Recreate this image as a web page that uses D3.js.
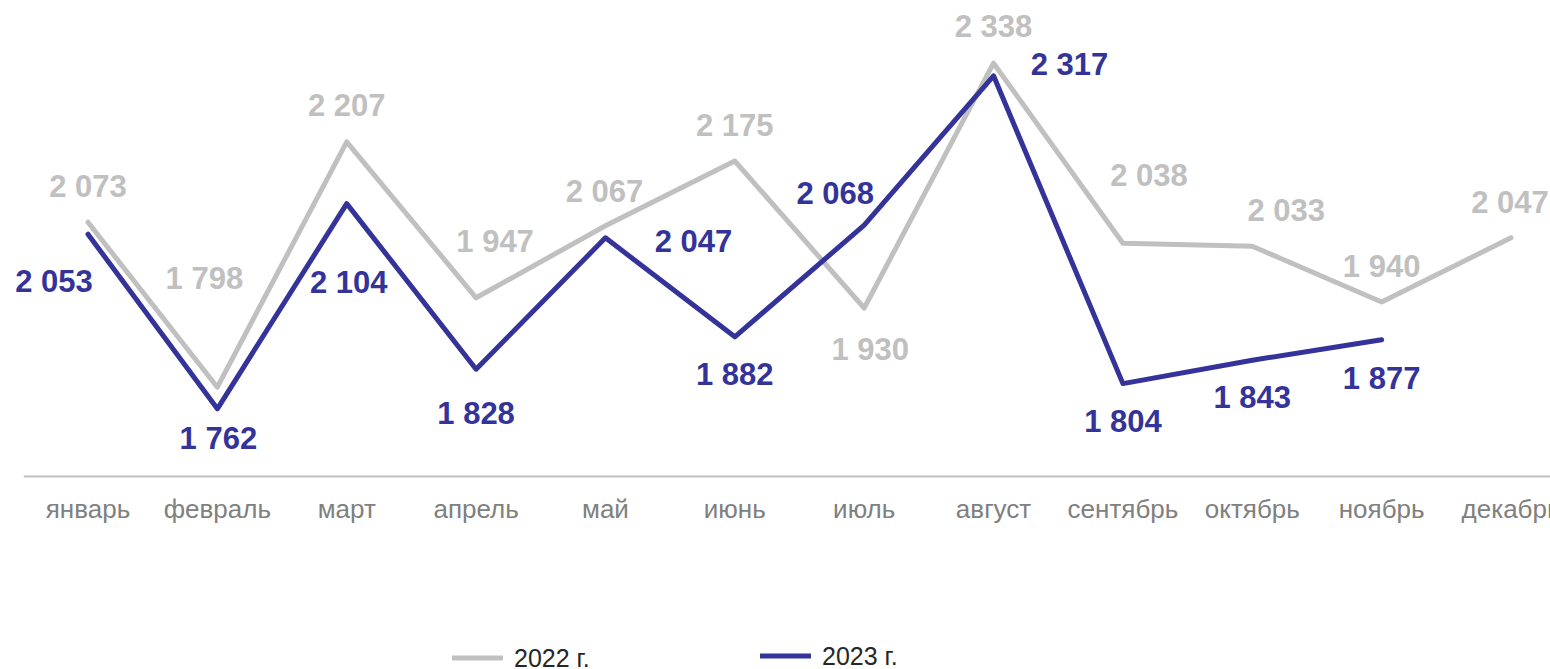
<!DOCTYPE html>
<html>
<head>
<meta charset="utf-8">
<script src="https://cdn.jsdelivr.net/npm/d3@7"></script>
<style>
  html, body { margin: 0; padding: 0; background: #fff; overflow: hidden; }
  svg { display: block; }
</style>
</head>
<body>
<svg id="chart" width="1550" height="669"></svg>
<script>
// ---- data ----
const months = ["январь","февраль","март","апрель","май","июнь","июль","август","сентябрь","октябрь","ноябрь","декабрь"];
const values2022 = [2073, 1798, 2207, 1947, 2067, 2175, 1930, 2338, 2038, 2033, 1940, 2047];
const values2023 = [2053, 1762, 2104, 1828, 2047, 1882, 2068, 2317, 1804, 1843, 1877];
const seriesNames = ["2022 г.", "2023 г."];

// ---- label placement (layout only) ----
const labelOffsets2022 = [[0,-25],[-13,-98],[0,-26],[19,-46],[-1,-24],[0,-25],[6,52],[0,-26],[26,-57],[34,-25],[0,-25],[-1,-25]];
const labelOffsets2023 = [[-34,58],[1,40],[2,89],[0,55],[88,14],[0,48],[-29,-21],[76,-1],[0,48],[0,48],[0,49]];

const colors = ["#c0c0c0", "#333399"];

const svg = d3.select("#chart");
const x = d3.scaleBand().domain(months).range([23.3, 1575.7]).paddingInner(0).paddingOuter(0);
const y = d3.scaleLinear().domain([1650, 2400]).range([476, 26]);
const cx = m => x(m) + x.bandwidth() / 2;

const fmt = d3.formatLocale({decimal: ",", thousands: " ", grouping: [3], currency: ["", ""]}).format(",d");

// x axis
const axis = svg.append("g")
  .attr("transform", "translate(0,476)")
  .call(d3.axisBottom(x).tickSize(0).tickPadding(0));
axis.select(".domain").attr("stroke", "#c0c0c0").attr("stroke-width", 2);
axis.selectAll(".tick text")
  .attr("y", 0).attr("dy", 0)
  .attr("transform", "translate(0,42)")
  .attr("fill", "#808080")
  .style("font-family", "'Liberation Sans', Arial, sans-serif")
  .style("font-size", "26px");

const line = d3.line().x((d, i) => cx(months[i])).y(d => y(d));

const series = [
  {vals: values2022, color: colors[0], offs: labelOffsets2022},
  {vals: values2023, color: colors[1], offs: labelOffsets2023}
];

series.forEach(s => {
  svg.append("path")
    .datum(s.vals)
    .attr("d", line)
    .attr("fill", "none")
    .attr("stroke", s.color)
    .attr("stroke-width", 5)
    .attr("stroke-linejoin", "round")
    .attr("stroke-linecap", "round");
});

series.forEach(s => {
  svg.append("g").selectAll("text")
    .data(s.vals)
    .join("text")
    .attr("x", (d, i) => cx(months[i]) + s.offs[i][0])
    .attr("y", (d, i) => y(d) + s.offs[i][1])
    .attr("text-anchor", "middle")
    .attr("fill", s.color)
    .style("font-family", "'Liberation Sans', Arial, sans-serif")
    .style("font-weight", "bold")
    .style("font-size", "31px")
    .text(d => fmt(d));
});

// legend
const legendItems = [
  {name: seriesNames[0], color: colors[0], x: 452, y: 658},
  {name: seriesNames[1], color: colors[1], x: 760, y: 656}
];
const lg = svg.append("g");
legendItems.forEach(l => {
  lg.append("line").attr("x1", l.x).attr("x2", l.x + 51).attr("y1", l.y).attr("y2", l.y)
    .attr("stroke", l.color).attr("stroke-width", 5);
  lg.append("text").attr("x", l.x + 62).attr("y", l.y + 9)
    .attr("fill", "#262626")
    .style("font-family", "'Liberation Sans', Arial, sans-serif")
    .style("font-size", "25px")
    .text(l.name);
});
</script>
</body>
</html>
